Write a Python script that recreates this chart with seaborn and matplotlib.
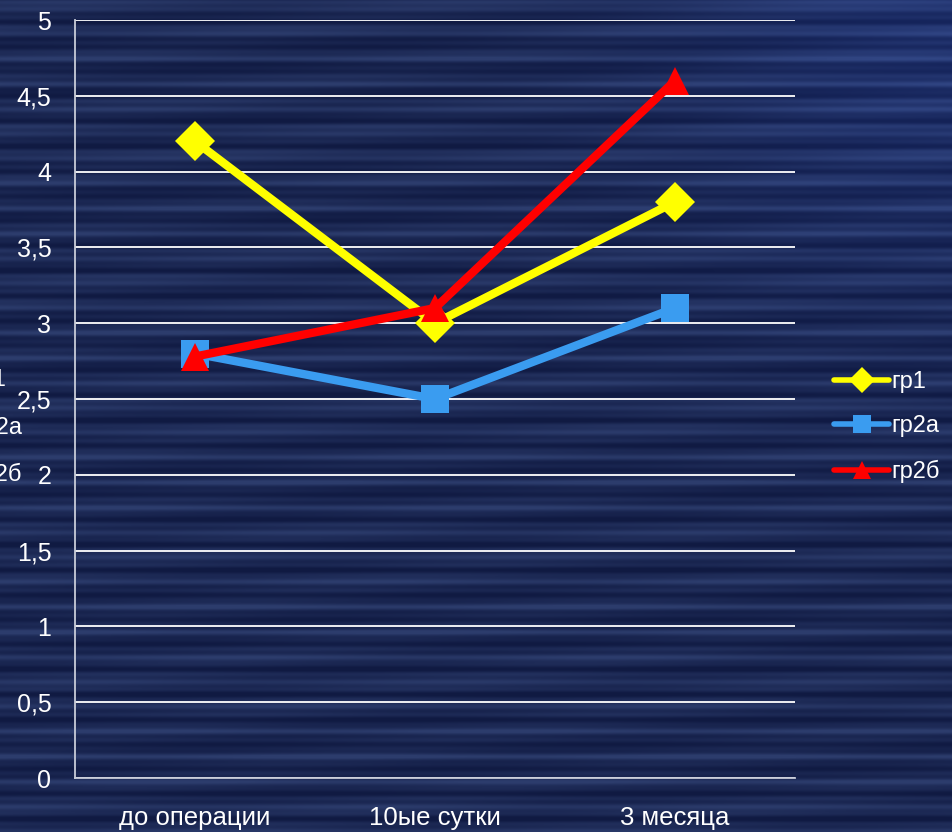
import numpy as np
import pandas as pd
import matplotlib
matplotlib.use("Agg")
import matplotlib.pyplot as plt
import seaborn as sns
from matplotlib.ticker import FixedLocator, FuncFormatter
from matplotlib.lines import Line2D

# Chart data
periods = ["до операции", "10ые сутки", "3 месяца"]
groups = ["гр1", "гр2а", "гр2б"]
gr1 = [4.2, 3.0, 3.8]
gr2a = [2.8, 2.5, 3.1]
gr2b = [2.78, 3.1, 4.6]
y_ticks = [0, 0.5, 1, 1.5, 2, 2.5, 3, 3.5, 4, 4.5, 5]

colors = {"гр1": "#ffff00", "гр2а": "#3a9cf0", "гр2б": "#ff0000"}
markers = {"гр1": "D", "гр2а": "s", "гр2б": "^"}

df = pd.DataFrame({
    "period": np.tile(np.arange(len(periods)), len(groups)),
    "value": gr1 + gr2a + gr2b,
    "group": np.repeat(groups, len(periods)),
})

sns.set_theme(style="white")
plt.rcParams["font.family"] = ["Liberation Sans", "DejaVu Sans"]

W, H = 953, 832
fig = plt.figure(figsize=(W / 100, H / 100), dpi=100)

# Striped navy backdrop
bg = fig.add_axes([0, 0, 1, 1], zorder=-10)
rows = np.arange(H)[:, None].astype(float)
cols = np.arange(W)[None, :].astype(float)
band = (0.5 + 0.3 * np.sin(2 * np.pi * rows / 25.0)
        + 0.15 * np.sin(2 * np.pi * rows / 8.3 + 1.0)
        + 0.1 * np.sin(2 * np.pi * rows / 13.7 + 0.4)
        + 0.08 * np.sin(cols / 60.0 + rows / 9.0))
band = np.clip(band, 0, 1) ** 1.3
glow = np.exp(-((cols - W) ** 2 + rows ** 2) / (2 * 200.0 ** 2))
base = np.array([16, 26, 66]) / 255.0
light = np.array([44, 60, 108]) / 255.0
img = base[None, None, :] + (light - base)[None, None, :] * band[..., None]
img = img + glow[..., None] * np.array([0.02, 0.04, 0.1])[None, None, :]
bg.imshow(np.clip(img, 0, 1), aspect="auto", extent=[0, 1, 0, 1])
bg.axis("off")

ax = fig.add_axes([75 / W, 1 - 778 / H, 720 / W, 758 / H])
ax.set_facecolor("none")

sns.lineplot(data=df, x="period", y="value", hue="group", style="group",
             palette=colors, markers=markers, dashes=False, linewidth=6,
             markersize=20, markeredgewidth=0, ax=ax, legend=False, zorder=3)

ax.set_xlim(-0.5, 2.5)
ax.set_ylim(0, 5)
ax.yaxis.set_major_locator(FixedLocator(y_ticks))
ax.yaxis.set_major_formatter(FuncFormatter(lambda v, p: f"{v:g}".replace(".", ",")))
ax.grid(axis="y", color="white", linewidth=1.3)
ax.set_axisbelow(True)

ax.set_xticks([0, 1, 2])
ax.set_xticklabels(periods)
ax.set_xticks([-0.5, 0.5, 1.5, 2.5], minor=True)
ax.tick_params(axis="x", which="major", length=0, pad=20, labelsize=18.5, colors="white")
ax.tick_params(axis="x", which="minor", length=8, width=1.3, color="#c8ccd8", direction="out")
ax.tick_params(axis="y", length=8, width=1.3, color="#c8ccd8", direction="out",
               labelsize=18, colors="white", pad=9)
ax.set_xlabel("")
ax.set_ylabel("")
for side in ["top", "right"]:
    ax.spines[side].set_visible(False)
for side in ["left", "bottom"]:
    ax.spines[side].set_color("#c8ccd8")
    ax.spines[side].set_linewidth(1.3)

# Legend on the right
handles = [Line2D([], [], color=colors[g], marker=markers[g], linewidth=4,
                  markersize=13, markeredgewidth=0) for g in groups]
leg = fig.legend(handles, groups, loc="center left", bbox_to_anchor=(834 / W, 1 - 427 / H),
                 frameon=False, fontsize=17, labelcolor="white", handlelength=2.35,
                 handletextpad=0.08, labelspacing=0.95, borderaxespad=0, borderpad=0)

# Series labels running off the left edge
for label, xpix, ypix in zip(groups, [6, 22, 22], [380, 428, 474]):
    fig.text(xpix / W, 1 - ypix / H, label, color="white",
             fontsize=17, ha="right", va="center")

fig.savefig("out.png", dpi=100)
